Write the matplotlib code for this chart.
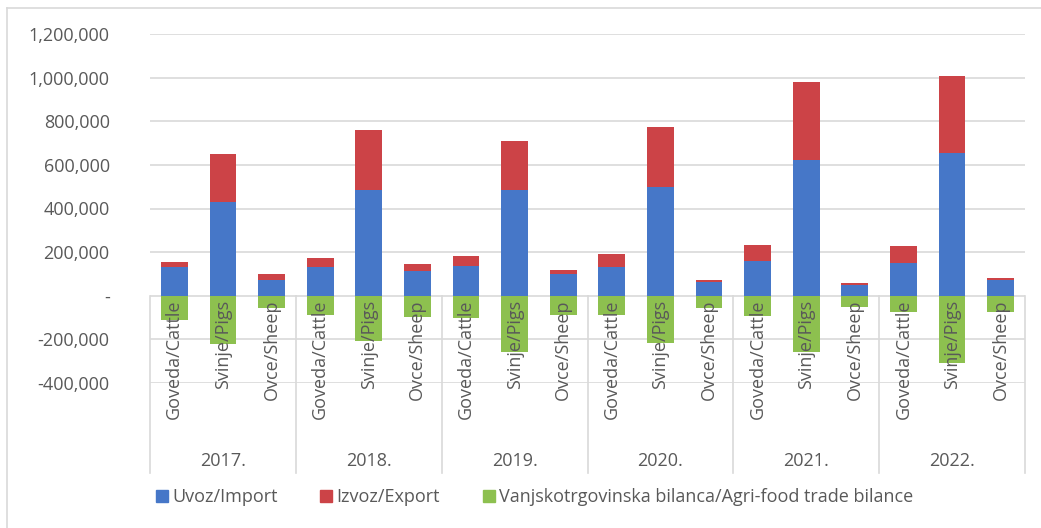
import matplotlib.pyplot as plt
import numpy as np
from matplotlib.ticker import FuncFormatter
from matplotlib.lines import Line2D

plt.rcParams['font.family'] = ['Open Sans', 'DejaVu Sans']

years = ['2017.', '2018.', '2019.', '2020.', '2021.', '2022.']
animals = ['Goveda/Cattle', 'Svinje/Pigs', 'Ovce/Sheep']

# values per year: cattle, pigs, sheep
imports = [130000, 428000, 72000,
           133000, 483000, 115000,
           138000, 483000, 99000,
           134000, 497000, 64000,
           160000, 621000, 50000,
           148000, 656000, 73000]
exports = [23000, 221000, 27000,
           40000, 277000, 30000,
           43000, 228000, 21000,
           57000, 277000, 9000,
           72000, 361000, 10000,
           79000, 351000, 9000]
balance = [-110000, -220000, -56000,
           -87000, -206000, -96000,
           -100000, -256000, -87000,
           -87000, -218000, -58000,
           -95000, -256000, -50000,
           -73000, -310000, -73000]

c_imp = '#4677C8'
c_exp = '#CC4347'
c_bal = '#8DC04F'
txt = '#595959'
grid = '#D9D9D9'

fig = plt.figure(figsize=(10.41, 5.28), dpi=100)
ax = fig.add_axes([150 / 1041, 1 - 383 / 528, 875 / 1041, 349 / 528])

x = np.arange(len(imports))
w = 0.55
ax.bar(x, imports, w, color=c_imp, zorder=2)
ax.bar(x, exports, w, bottom=imports, color=c_exp, zorder=2)
ax.bar(x, balance, w, color=c_bal, zorder=2)

ax.set_xlim(-0.5, len(x) - 0.5)
ax.set_ylim(-400000, 1200000)
ax.set_yticks(np.arange(-400000, 1200001, 200000))
ax.yaxis.set_major_formatter(FuncFormatter(lambda v, p: '-' if v == 0 else f'{v:,.0f}'))
ax.grid(axis='y', color=grid, linewidth=1.2, zorder=0)
ax.tick_params(axis='y', length=0, pad=29, labelsize=13, labelcolor=txt)
ax.set_xticks([])
for s in ax.spines.values():
    s.set_visible(False)

# category labels under zero line
for i in x:
    ax.annotate(animals[i % 3], (i, 0), xytext=(0, -3), textcoords='offset points',
                rotation=90, ha='center', va='top', fontsize=13, color=txt, zorder=3)

# year separators and labels
low = -400000 - (473 - 383) / 218.5 * 1e6
for k in range(len(years) + 1):
    ax.plot([k * 3 - 0.5, k * 3 - 0.5], [0, low], color=grid, lw=1.2, clip_on=False, zorder=1)
for k, yr in enumerate(years):
    ax.text(k * 3 + 1, -400000 - (461 - 383) / 218.5 * 1e6, yr, ha='center', va='center',
            fontsize=13, color=txt)

# legend
handles = [Line2D([], [], marker='s', ls='', color=c, markersize=8) for c in [c_imp, c_exp, c_bal]]
labels = ['Uvoz/Import', 'Izvoz/Export', 'Vanjskotrgovinska bilanca/Agri-food trade bilance']
fig.legend(handles, labels, loc='center', bbox_to_anchor=(533 / 1041, 1 - 497 / 528), ncol=3,
           frameon=False, fontsize=13, labelcolor=txt, handletextpad=0.05, columnspacing=2.2,
           handlelength=1.0)

# chart border (top and left)
fig.add_artist(Line2D([7 / 1041, 1], [1 - 8 / 528, 1 - 8 / 528], color='#D9D9D9', lw=1.2))
fig.add_artist(Line2D([7 / 1041, 7 / 1041], [0, 1 - 8 / 528], color='#D9D9D9', lw=1.2))

fig.savefig('out.png', dpi=100, facecolor='white')
